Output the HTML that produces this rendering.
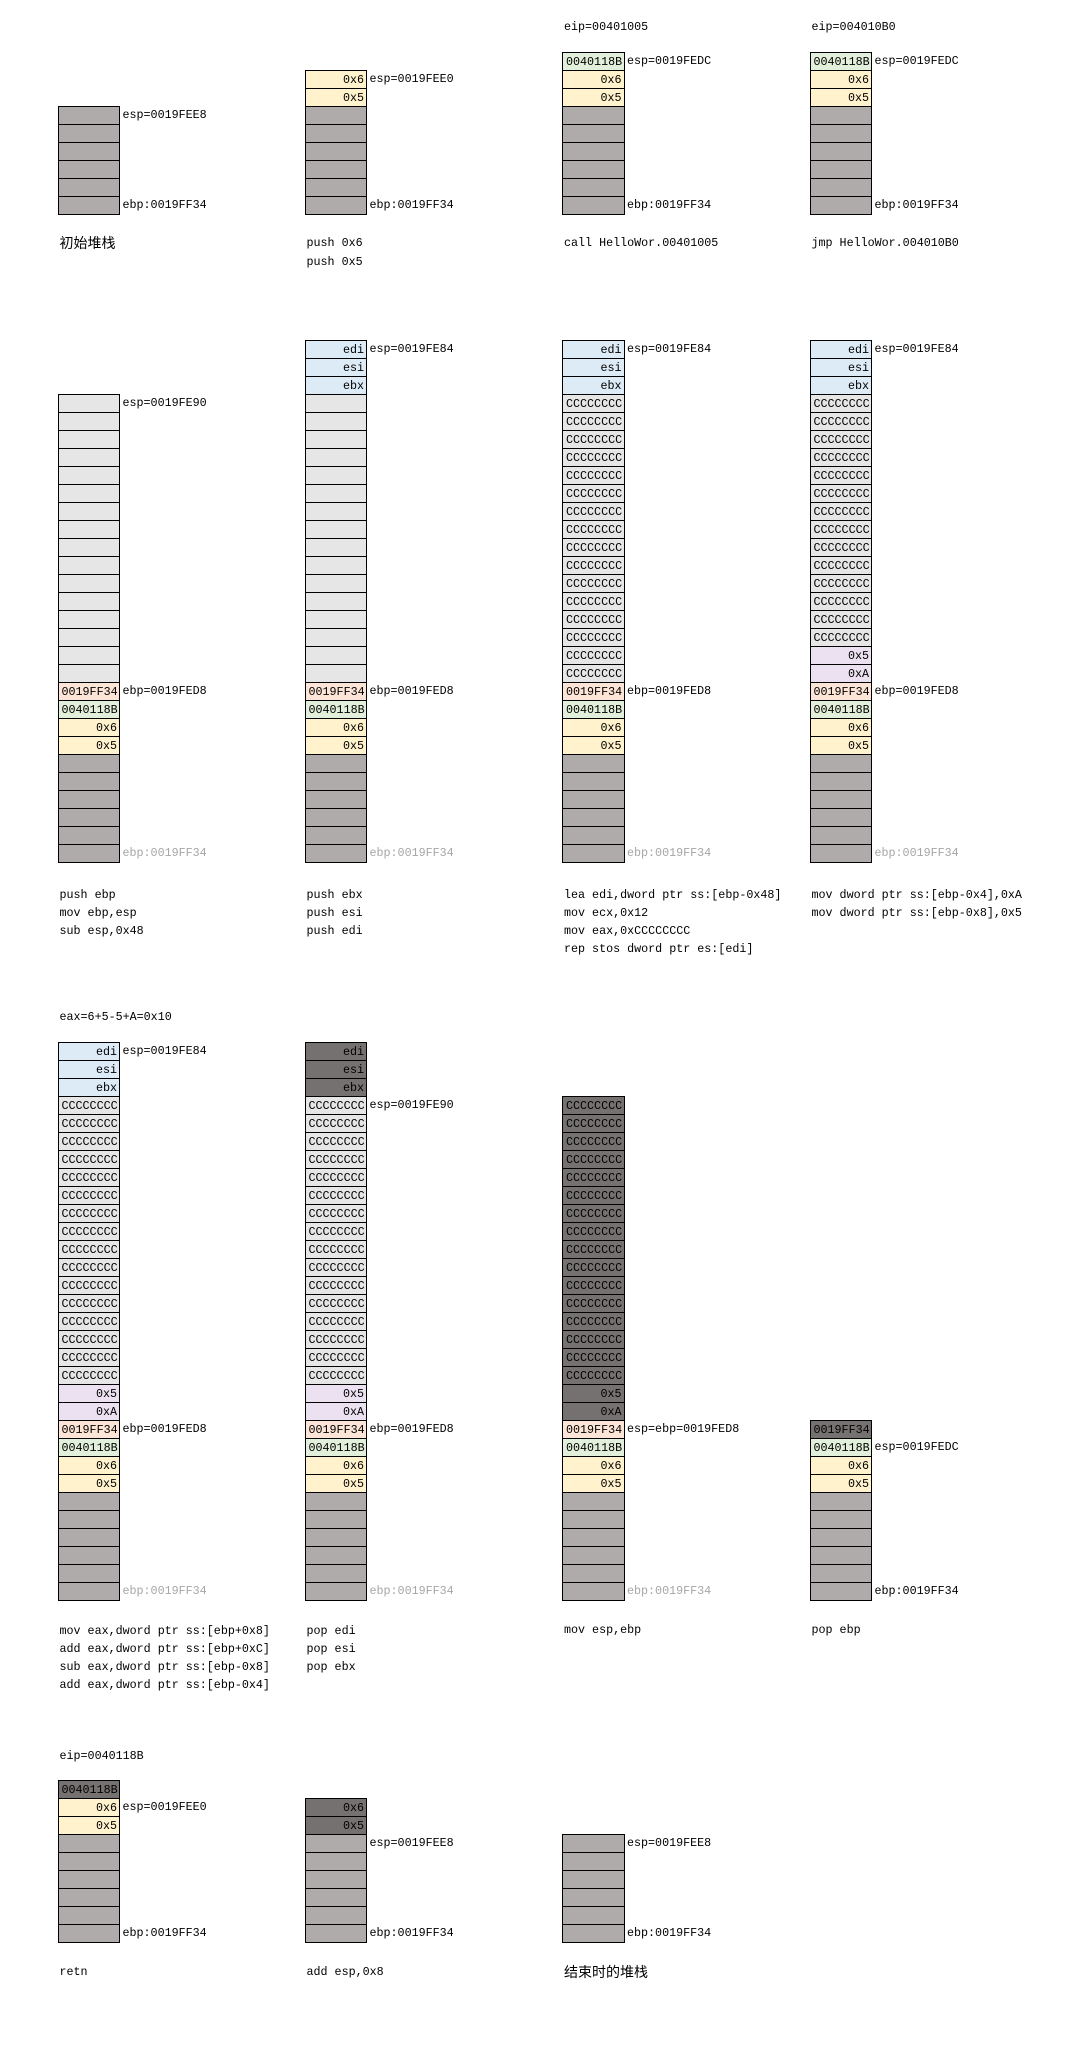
<!DOCTYPE html>
<html><head><meta charset="utf-8">
<style>
body{margin:0;width:1065px;height:2061px;background:#fff;position:relative;overflow:hidden;font-family:"Liberation Mono","Noto Sans CJK SC",monospace;font-size:11.7px;color:#000}
.s{position:absolute;width:60.5px;border:1px solid #000;background:#000}
.s>i{display:block;font-style:normal;height:18px;line-height:18px;border-top:1px solid #000;box-sizing:border-box;padding:0 2px 0 3px;white-space:pre;overflow:hidden}
.s>i:first-child{border-top:0;height:17px}
.r{text-align:right}
.g{background:#aeabaa}.w{background:#e7e6e6}.y{background:#fff2cc}.gr{background:#e2efda}
.p{background:#fce4d6}.b{background:#ddebf7}.v{background:#ebe1f0}.d{background:#767171}
.l{position:absolute;line-height:16px;white-space:pre}
.gy{color:#a6a6a6}
.zh{font-family:"Liberation Sans","Noto Sans CJK SC",sans-serif;font-size:14px}
</style></head><body>

<!-- Section 1 -->
<div class="s" style="left:57.5px;top:106.3px"><i class="g"></i><i class="g"></i><i class="g"></i><i class="g"></i><i class="g"></i><i class="g"></i></div>
<div class="l" style="left:122.5px;top:107.3px">esp=0019FEE8</div>
<div class="l" style="left:122.5px;top:197.3px">ebp:0019FF34</div>
<div class="l zh" style="left:59.5px;top:234px;line-height:18px">初始堆栈</div>

<div class="s" style="left:304.5px;top:70.3px"><i class="y r">0x6</i><i class="y r">0x5</i><i class="g"></i><i class="g"></i><i class="g"></i><i class="g"></i><i class="g"></i><i class="g"></i></div>
<div class="l" style="left:369.5px;top:71.3px">esp=0019FEE0</div>
<div class="l" style="left:369.5px;top:197.3px">ebp:0019FF34</div>
<div class="l" style="left:306.5px;top:234px;line-height:18.5px">push 0x6
push 0x5</div>

<div class="l" style="left:564px;top:19px">eip=00401005</div>
<div class="s" style="left:562px;top:52.3px"><i class="gr">0040118B</i><i class="y r">0x6</i><i class="y r">0x5</i><i class="g"></i><i class="g"></i><i class="g"></i><i class="g"></i><i class="g"></i><i class="g"></i></div>
<div class="l" style="left:627px;top:53.3px">esp=0019FEDC</div>
<div class="l" style="left:627px;top:197.3px">ebp:0019FF34</div>
<div class="l" style="left:564px;top:234px;line-height:18.5px">call HelloWor.00401005</div>

<div class="l" style="left:811.5px;top:19px">eip=004010B0</div>
<div class="s" style="left:809.5px;top:52.3px"><i class="gr">0040118B</i><i class="y r">0x6</i><i class="y r">0x5</i><i class="g"></i><i class="g"></i><i class="g"></i><i class="g"></i><i class="g"></i><i class="g"></i></div>
<div class="l" style="left:874.5px;top:53.3px">esp=0019FEDC</div>
<div class="l" style="left:874.5px;top:197.3px">ebp:0019FF34</div>
<div class="l" style="left:811.5px;top:234px;line-height:18.5px">jmp HelloWor.004010B0</div>

<!-- Section 2 -->
<div class="s" style="left:57.5px;top:394.3px"><i class="w"></i><i class="w"></i><i class="w"></i><i class="w"></i><i class="w"></i><i class="w"></i><i class="w"></i><i class="w"></i><i class="w"></i><i class="w"></i><i class="w"></i><i class="w"></i><i class="w"></i><i class="w"></i><i class="w"></i><i class="w"></i><i class="p">0019FF34</i><i class="gr">0040118B</i><i class="y r">0x6</i><i class="y r">0x5</i><i class="g"></i><i class="g"></i><i class="g"></i><i class="g"></i><i class="g"></i><i class="g"></i></div>
<div class="l" style="left:122.5px;top:395.3px">esp=0019FE90</div>
<div class="l" style="left:122.5px;top:683.3px">ebp=0019FED8</div>
<div class="l gy" style="left:122.5px;top:845.3px">ebp:0019FF34</div>
<div class="l" style="left:59.5px;top:885.5px;line-height:18px">push ebp
mov ebp,esp
sub esp,0x48</div>

<div class="s" style="left:304.5px;top:340.3px"><i class="b r">edi</i><i class="b r">esi</i><i class="b r">ebx</i><i class="w"></i><i class="w"></i><i class="w"></i><i class="w"></i><i class="w"></i><i class="w"></i><i class="w"></i><i class="w"></i><i class="w"></i><i class="w"></i><i class="w"></i><i class="w"></i><i class="w"></i><i class="w"></i><i class="w"></i><i class="w"></i><i class="p">0019FF34</i><i class="gr">0040118B</i><i class="y r">0x6</i><i class="y r">0x5</i><i class="g"></i><i class="g"></i><i class="g"></i><i class="g"></i><i class="g"></i><i class="g"></i></div>
<div class="l" style="left:369.5px;top:341.3px">esp=0019FE84</div>
<div class="l" style="left:369.5px;top:683.3px">ebp=0019FED8</div>
<div class="l gy" style="left:369.5px;top:845.3px">ebp:0019FF34</div>
<div class="l" style="left:306.5px;top:885.5px;line-height:18px">push ebx
push esi
push edi</div>

<div class="s" style="left:562px;top:340.3px"><i class="b r">edi</i><i class="b r">esi</i><i class="b r">ebx</i><i class="w">CCCCCCCC</i><i class="w">CCCCCCCC</i><i class="w">CCCCCCCC</i><i class="w">CCCCCCCC</i><i class="w">CCCCCCCC</i><i class="w">CCCCCCCC</i><i class="w">CCCCCCCC</i><i class="w">CCCCCCCC</i><i class="w">CCCCCCCC</i><i class="w">CCCCCCCC</i><i class="w">CCCCCCCC</i><i class="w">CCCCCCCC</i><i class="w">CCCCCCCC</i><i class="w">CCCCCCCC</i><i class="w">CCCCCCCC</i><i class="w">CCCCCCCC</i><i class="p">0019FF34</i><i class="gr">0040118B</i><i class="y r">0x6</i><i class="y r">0x5</i><i class="g"></i><i class="g"></i><i class="g"></i><i class="g"></i><i class="g"></i><i class="g"></i></div>
<div class="l" style="left:627px;top:341.3px">esp=0019FE84</div>
<div class="l" style="left:627px;top:683.3px">ebp=0019FED8</div>
<div class="l gy" style="left:627px;top:845.3px">ebp:0019FF34</div>
<div class="l" style="left:564px;top:885.5px;line-height:18px">lea edi,dword ptr ss:[ebp-0x48]
mov ecx,0x12
mov eax,0xCCCCCCCC
rep stos dword ptr es:[edi]</div>

<div class="s" style="left:809.5px;top:340.3px"><i class="b r">edi</i><i class="b r">esi</i><i class="b r">ebx</i><i class="w">CCCCCCCC</i><i class="w">CCCCCCCC</i><i class="w">CCCCCCCC</i><i class="w">CCCCCCCC</i><i class="w">CCCCCCCC</i><i class="w">CCCCCCCC</i><i class="w">CCCCCCCC</i><i class="w">CCCCCCCC</i><i class="w">CCCCCCCC</i><i class="w">CCCCCCCC</i><i class="w">CCCCCCCC</i><i class="w">CCCCCCCC</i><i class="w">CCCCCCCC</i><i class="w">CCCCCCCC</i><i class="v r">0x5</i><i class="v r">0xA</i><i class="p">0019FF34</i><i class="gr">0040118B</i><i class="y r">0x6</i><i class="y r">0x5</i><i class="g"></i><i class="g"></i><i class="g"></i><i class="g"></i><i class="g"></i><i class="g"></i></div>
<div class="l" style="left:874.5px;top:341.3px">esp=0019FE84</div>
<div class="l" style="left:874.5px;top:683.3px">ebp=0019FED8</div>
<div class="l gy" style="left:874.5px;top:845.3px">ebp:0019FF34</div>
<div class="l" style="left:811.5px;top:885.5px;line-height:18px">mov dword ptr ss:[ebp-0x4],0xA
mov dword ptr ss:[ebp-0x8],0x5</div>

<!-- Section 3 -->
<div class="l" style="left:59.5px;top:1009px">eax=6+5-5+A=0x10</div>
<div class="s" style="left:57.5px;top:1042.3px"><i class="b r">edi</i><i class="b r">esi</i><i class="b r">ebx</i><i class="w">CCCCCCCC</i><i class="w">CCCCCCCC</i><i class="w">CCCCCCCC</i><i class="w">CCCCCCCC</i><i class="w">CCCCCCCC</i><i class="w">CCCCCCCC</i><i class="w">CCCCCCCC</i><i class="w">CCCCCCCC</i><i class="w">CCCCCCCC</i><i class="w">CCCCCCCC</i><i class="w">CCCCCCCC</i><i class="w">CCCCCCCC</i><i class="w">CCCCCCCC</i><i class="w">CCCCCCCC</i><i class="w">CCCCCCCC</i><i class="w">CCCCCCCC</i><i class="v r">0x5</i><i class="v r">0xA</i><i class="p">0019FF34</i><i class="gr">0040118B</i><i class="y r">0x6</i><i class="y r">0x5</i><i class="g"></i><i class="g"></i><i class="g"></i><i class="g"></i><i class="g"></i><i class="g"></i></div>
<div class="l" style="left:122.5px;top:1043.3px">esp=0019FE84</div>
<div class="l" style="left:122.5px;top:1421.3px">ebp=0019FED8</div>
<div class="l gy" style="left:122.5px;top:1583.3px">ebp:0019FF34</div>
<div class="l" style="left:59.5px;top:1621.5px;line-height:18.3px">mov eax,dword ptr ss:[ebp+0x8]
add eax,dword ptr ss:[ebp+0xC]
sub eax,dword ptr ss:[ebp-0x8]
add eax,dword ptr ss:[ebp-0x4]</div>

<div class="s" style="left:304.5px;top:1042.3px"><i class="d r">edi</i><i class="d r">esi</i><i class="d r">ebx</i><i class="w">CCCCCCCC</i><i class="w">CCCCCCCC</i><i class="w">CCCCCCCC</i><i class="w">CCCCCCCC</i><i class="w">CCCCCCCC</i><i class="w">CCCCCCCC</i><i class="w">CCCCCCCC</i><i class="w">CCCCCCCC</i><i class="w">CCCCCCCC</i><i class="w">CCCCCCCC</i><i class="w">CCCCCCCC</i><i class="w">CCCCCCCC</i><i class="w">CCCCCCCC</i><i class="w">CCCCCCCC</i><i class="w">CCCCCCCC</i><i class="w">CCCCCCCC</i><i class="v r">0x5</i><i class="v r">0xA</i><i class="p">0019FF34</i><i class="gr">0040118B</i><i class="y r">0x6</i><i class="y r">0x5</i><i class="g"></i><i class="g"></i><i class="g"></i><i class="g"></i><i class="g"></i><i class="g"></i></div>
<div class="l" style="left:369.5px;top:1097.3px">esp=0019FE90</div>
<div class="l" style="left:369.5px;top:1421.3px">ebp=0019FED8</div>
<div class="l gy" style="left:369.5px;top:1583.3px">ebp:0019FF34</div>
<div class="l" style="left:306.5px;top:1621.5px;line-height:18.3px">pop edi
pop esi
pop ebx</div>

<div class="s" style="left:562px;top:1096.3px"><i class="d">CCCCCCCC</i><i class="d">CCCCCCCC</i><i class="d">CCCCCCCC</i><i class="d">CCCCCCCC</i><i class="d">CCCCCCCC</i><i class="d">CCCCCCCC</i><i class="d">CCCCCCCC</i><i class="d">CCCCCCCC</i><i class="d">CCCCCCCC</i><i class="d">CCCCCCCC</i><i class="d">CCCCCCCC</i><i class="d">CCCCCCCC</i><i class="d">CCCCCCCC</i><i class="d">CCCCCCCC</i><i class="d">CCCCCCCC</i><i class="d">CCCCCCCC</i><i class="d r">0x5</i><i class="d r">0xA</i><i class="p">0019FF34</i><i class="gr">0040118B</i><i class="y r">0x6</i><i class="y r">0x5</i><i class="g"></i><i class="g"></i><i class="g"></i><i class="g"></i><i class="g"></i><i class="g"></i></div>
<div class="l" style="left:627px;top:1421.3px">esp=ebp=0019FED8</div>
<div class="l gy" style="left:627px;top:1583.3px">ebp:0019FF34</div>
<div class="l" style="left:564px;top:1621.5px">mov esp,ebp</div>

<div class="s" style="left:809.5px;top:1420.3px"><i class="d">0019FF34</i><i class="gr">0040118B</i><i class="y r">0x6</i><i class="y r">0x5</i><i class="g"></i><i class="g"></i><i class="g"></i><i class="g"></i><i class="g"></i><i class="g"></i></div>
<div class="l" style="left:874.5px;top:1439.3px">esp=0019FEDC</div>
<div class="l" style="left:874.5px;top:1583.3px">ebp:0019FF34</div>
<div class="l" style="left:811.5px;top:1621.5px">pop ebp</div>

<!-- Section 4 -->
<div class="l" style="left:59.5px;top:1747.7px">eip=0040118B</div>
<div class="s" style="left:57.5px;top:1780.3px"><i class="d">0040118B</i><i class="y r">0x6</i><i class="y r">0x5</i><i class="g"></i><i class="g"></i><i class="g"></i><i class="g"></i><i class="g"></i><i class="g"></i></div>
<div class="l" style="left:122.5px;top:1799.3px">esp=0019FEE0</div>
<div class="l" style="left:122.5px;top:1925.3px">ebp:0019FF34</div>
<div class="l" style="left:59.5px;top:1963.7px">retn</div>

<div class="s" style="left:304.5px;top:1798.3px"><i class="d r">0x6</i><i class="d r">0x5</i><i class="g"></i><i class="g"></i><i class="g"></i><i class="g"></i><i class="g"></i><i class="g"></i></div>
<div class="l" style="left:369.5px;top:1835.3px">esp=0019FEE8</div>
<div class="l" style="left:369.5px;top:1925.3px">ebp:0019FF34</div>
<div class="l" style="left:306.5px;top:1963.7px">add esp,0x8</div>

<div class="s" style="left:562px;top:1834.3px"><i class="g"></i><i class="g"></i><i class="g"></i><i class="g"></i><i class="g"></i><i class="g"></i></div>
<div class="l" style="left:627px;top:1835.3px">esp=0019FEE8</div>
<div class="l" style="left:627px;top:1925.3px">ebp:0019FF34</div>
<div class="l zh" style="left:564px;top:1962.7px;line-height:18px">结束时的堆栈</div>

</body></html>
